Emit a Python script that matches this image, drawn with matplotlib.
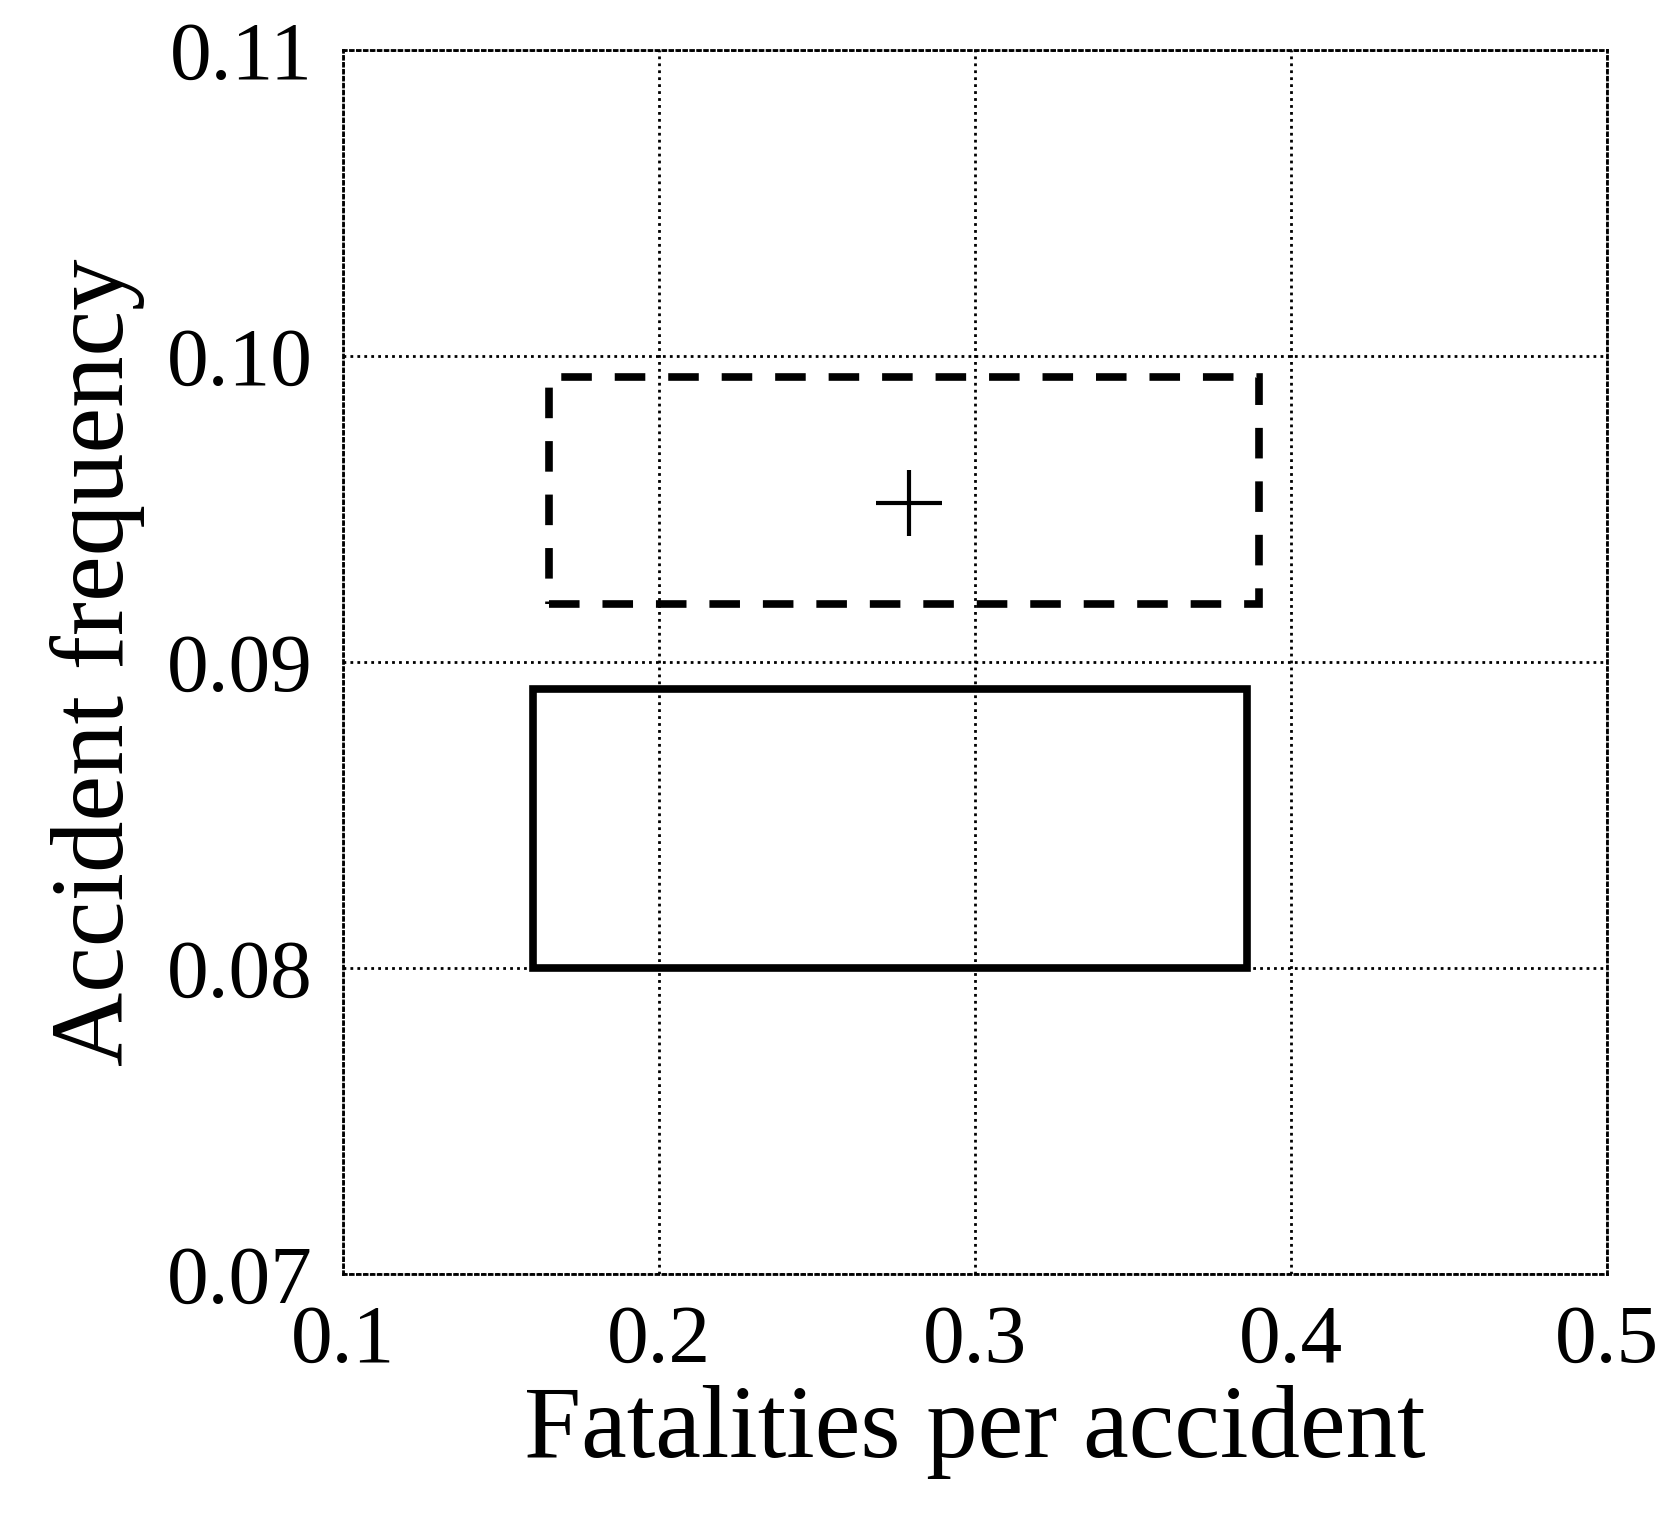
import matplotlib
matplotlib.use("Agg")
import matplotlib.pyplot as plt
from matplotlib.patches import Rectangle

# data
solid_box = [0.160, 0.386, 0.0800, 0.0891]   # x0, x1, y0, y1
dashed_box = [0.165, 0.390, 0.0919, 0.0993]
center = [0.279, 0.0952]
x_ticks = [0.1, 0.2, 0.3, 0.4, 0.5]
y_ticks = [0.07, 0.08, 0.09, 0.10, 0.11]
x_labels = ["0.1", "0.2", "0.3", "0.4", "0.5"]
y_labels = ["0.07", "0.08", "0.09", "0.10", "0.11"]

plt.rcParams['font.family'] = ['Liberation Serif', 'DejaVu Serif']

fig = plt.figure(figsize=(16.74, 15.2), dpi=100)
ax = fig.add_axes([0.205, 0.162, 0.755, 0.805])

x0, x1, y0, y1 = solid_box
ax.add_patch(Rectangle((x0, y0), x1 - x0, y1 - y0, fill=False, ec="black", lw=5.5))
x0, x1, y0, y1 = dashed_box
ax.add_patch(Rectangle((x0, y0), x1 - x0, y1 - y0, fill=False, ec="black", lw=5.5,
                       ls=(0, (4, 3))))
ax.plot(center[0], center[1], marker="+", color="black", ms=48, mew=3)

ax.set_xlim(0.1, 0.5)
ax.set_ylim(0.07, 0.11)
ax.set_xticks(x_ticks, x_labels)
ax.set_yticks(y_ticks, y_labels)
ax.tick_params(length=0, labelsize=60, pad=22)
ax.grid(True, color="black", ls=(0, (1, 1.5)), lw=2)
for s in ax.spines.values():
    s.set_linestyle((0, (1, 1.5)))
    s.set_linewidth(2)
ax.set_xlabel("Fatalities per accident", fontsize=74, labelpad=4)
ax.set_ylabel("Accident frequency", fontsize=74, labelpad=16)

fig.savefig("out.png", dpi=100)
